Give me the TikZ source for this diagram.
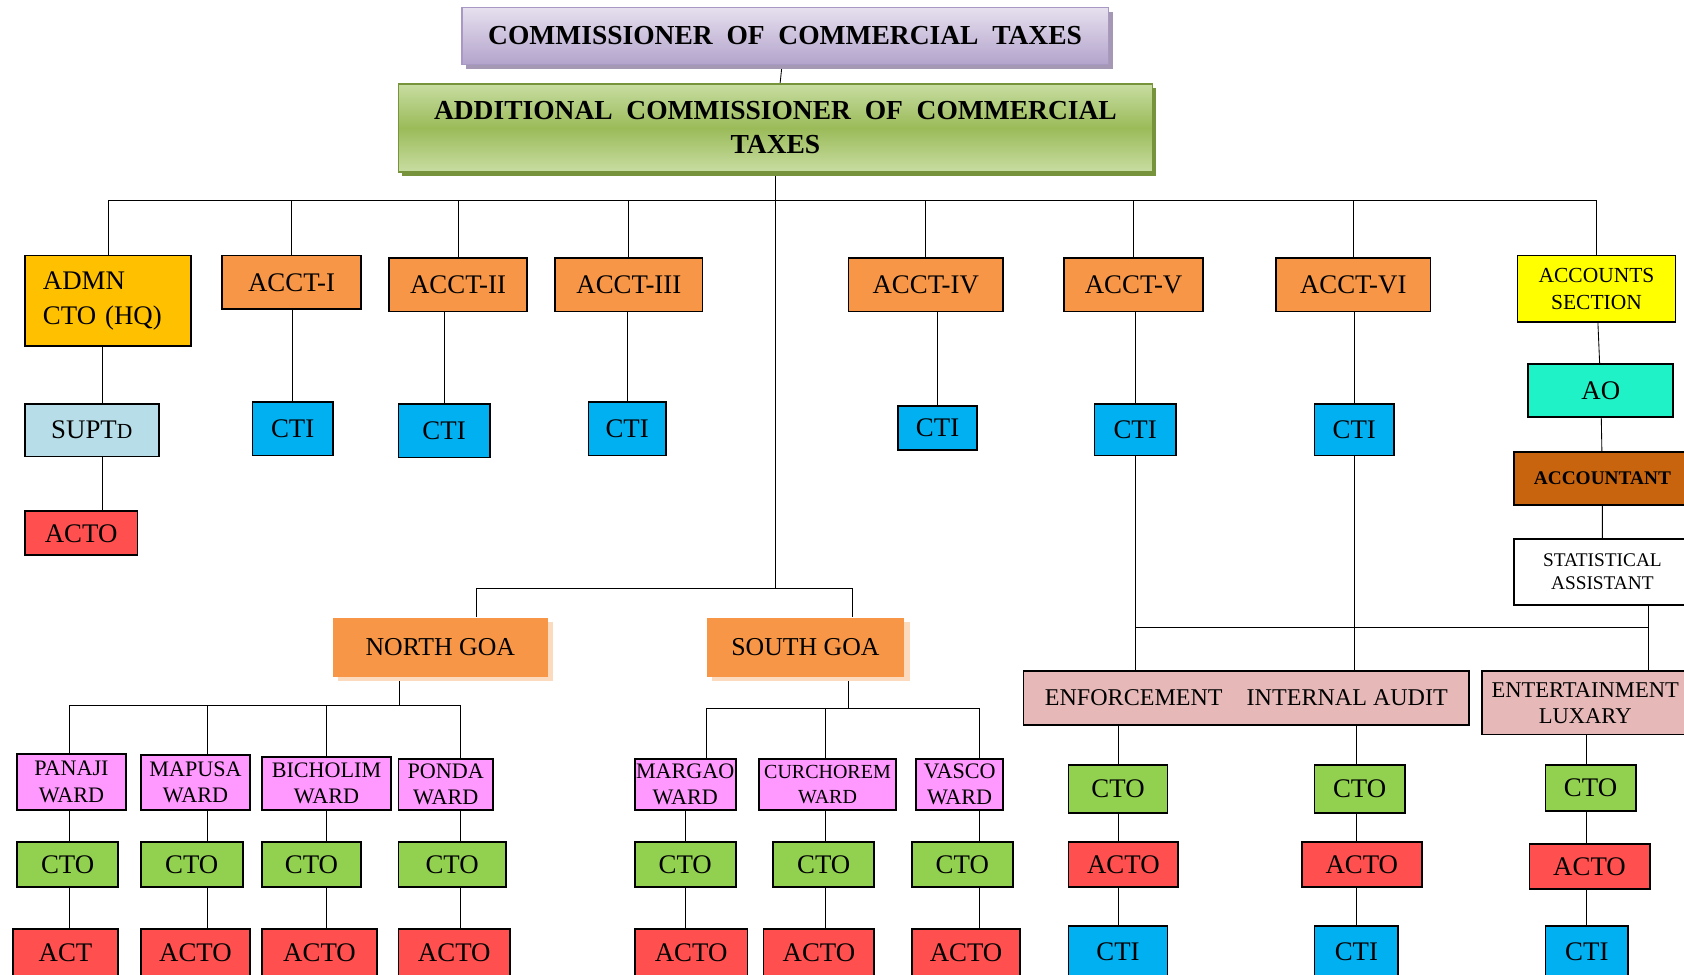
\documentclass[tikz,border=0pt]{standalone}
\usepackage{fontspec}
\setmainfont{Liberation Serif}
\usepackage{tikz}
\usetikzlibrary{shadows,backgrounds}
\definecolor{comtop}{HTML}{E6E0EE}
\definecolor{combot}{HTML}{B3A3CC}
\definecolor{comedge}{HTML}{A898C4}
\definecolor{addtop}{HTML}{C8DDA2}
\definecolor{addmid}{HTML}{9BBB59}
\definecolor{addedge}{HTML}{77933C}
\definecolor{acctorange}{HTML}{F79646}
\definecolor{admgold}{HTML}{FFC000}
\definecolor{accyellow}{HTML}{FFFF00}
\definecolor{ctiblue}{HTML}{00B0F0}
\definecolor{actored}{HTML}{FF4F4F}
\definecolor{ctogreen}{HTML}{92D050}
\definecolor{wardpink}{HTML}{FF99FF}
\definecolor{suptblue}{HTML}{B7DEE8}
\definecolor{enfpink}{HTML}{E6B9B8}
\definecolor{aogreen}{HTML}{1EF2C6}
\definecolor{accbrown}{HTML}{C8640E}

\begin{document}
\begin{tikzpicture}[x=0.5pt,y=-0.5pt,line width=0.9pt,
  box/.style 2 args={draw=black,line width=0.8pt,inner sep=0pt,align=center,
    minimum width=#1*0.5pt,minimum height=#2*0.5pt,font=\fontsize{12.5}{15}\selectfont}]
\tikzstyle{acct}=[fill=acctorange]
\tikzstyle{cti}=[fill=ctiblue]
\tikzstyle{cto}=[fill=ctogreen]
\tikzstyle{acto}=[fill=actored]
\tikzstyle{ward}=[fill=wardpink,font=\fontsize{10.3}{12.3}\selectfont]
\tikzstyle{goa}=[fill=acctorange,draw=none,font=\fontsize{12}{14}\selectfont,
  drop shadow={fill=acctorange!35!white,shadow xshift=2.5pt,shadow yshift=-2pt,opacity=1}]
\tikzstyle{head}=[font=\bfseries\fontsize{12.8}{16}\selectfont]
\useasboundingbox (0,0) rectangle (1568,907);
\clip (0,0) rectangle (1568,907);

% heads
\node[box={602}{53},head,draw=comedge,top color=comtop,bottom color=combot,
  drop shadow={fill=combot!70!gray,shadow xshift=2pt,shadow yshift=-2pt,opacity=1}]
  (COM) at (731,33.5) {COMMISSIONER\ \ OF\ \ COMMERCIAL\ \ TAXES};
\node[box={702}{82},head,draw=addedge,top color=addtop,bottom color=addtop,middle color=addmid,
  drop shadow={fill=addedge,shadow xshift=1.5pt,shadow yshift=-2pt,opacity=1}]
  (ADD) at (722,119) {ADDITIONAL\ \ COMMISSIONER\ \ OF\ \ COMMERCIAL\\TAXES};

% second row
\node[box={155}{84},fill=admgold,align=left,text width=60.5pt,
  font=\fontsize{12.5}{16.5}\selectfont] (ADM) at (100.5,280) {ADMN\\CTO (HQ)};
\node[box={129}{50},acct] (AC1) at (271.5,263) {ACCT-I};
\node[box={129}{50},acct] (AC2) at (426.5,265) {ACCT-II};
\node[box={137}{50},acct] (AC3) at (585.5,265) {ACCT-III};
\node[box={144}{50},acct] (AC4) at (862,265) {ACCT-IV};
\node[box={129}{50},acct] (AC5) at (1055.5,265) {ACCT-V};
\node[box={144}{50},acct] (AC6) at (1260,265) {ACCT-VI};
\node[box={147}{62},fill=accyellow,font=\fontsize{10}{12.5}\selectfont] (ACS) at (1486.5,269) {ACCOUNTS\\SECTION};

% third row
\node[box={125}{49},fill=suptblue] (SUP) at (85.5,400.5) {SUPT{\fontsize{10}{12}\selectfont D}};
\node[box={105}{41},acto] (ACH) at (75.5,496.5) {ACTO};
\node[box={75}{50},cti] (CT1) at (272.5,399) {CTI};
\node[box={85}{50},cti] (CT2) at (413.5,401) {CTI};
\node[box={72}{50},cti] (CT3) at (584,399) {CTI};
\node[box={74}{41},cti] (CT4) at (873,398.5) {CTI};
\node[box={76}{48},cti] (CT5) at (1057,400) {CTI};
\node[box={74}{48},cti] (CT6) at (1261,400) {CTI};
\node[box={135}{49},fill=aogreen] (AO) at (1490.5,363.5) {AO};
\node[box={164}{49},fill=accbrown,font=\bfseries\fontsize{9}{11}\selectfont] (ACN) at (1492,445.5) {ACCOUNTANT};
\node[box={164}{61},fill=white,font=\fontsize{9}{10.5}\selectfont] (STA) at (1492,532.5) {STATISTICAL\\ASSISTANT};

% enforcement etc
\node[box={415}{50},fill=enfpink,font=\fontsize{11.2}{14}\selectfont] (ENF) at (1160.5,650) {ENFORCEMENT\ \ \ \ INTERNAL AUDIT};
\node[box={192}{59},fill=enfpink,font=\fontsize{10.5}{12}\selectfont] (ENT) at (1476,654.5) {ENTERTAINMENT\\LUXARY};
\node[box={92}{45},cto] (ECO) at (1041,734.5) {CTO};
\node[box={102}{42},acto] (EAC) at (1046,805) {ACTO};
\node[box={92}{48},cti] (ECI) at (1041,886) {CTI};
\node[box={84}{45},cto] (ICO) at (1266,734.5) {CTO};
\node[box={112}{42},acto] (IAC) at (1268,805) {ACTO};
\node[box={78}{48},cti] (ICI) at (1263,886) {CTI};
\node[box={84}{43},cto] (TCO) at (1481,733.5) {CTO};
\node[box={112}{42},acto] (TAC) at (1480,807) {ACTO};
\node[box={77}{48},cti] (TCI) at (1477.5,886) {CTI};

% goa
\node[box={200}{55},goa] (NG) at (410,602.5) {NORTH GOA};
\node[box={184}{55},goa] (SG) at (750,602.5) {SOUTH GOA};

% north wards
\node[box={101}{52},ward] (PW) at (66.5,728) {PANAJI\\WARD};
\node[box={102}{51},ward] (MW) at (182,728.5) {MAPUSA\\WARD};
\node[box={120}{49},ward] (BW) at (304,729.5) {BICHOLIM\\WARD};
\node[box={88}{47},ward] (DW) at (415,730.5) {PONDA\\WARD};
\node[box={94}{42},cto] (PC) at (63,805) {CTO};
\node[box={95}{42},cto] (MC) at (178.5,805) {CTO};
\node[box={92}{42},cto] (BC) at (290,805) {CTO};
\node[box={100}{42},cto] (DC) at (421,805) {CTO};
\node[box={98}{45},acto] (PA) at (61,887.5) {ACT};
\node[box={102}{45},acto] (MA) at (182,887.5) {ACTO};
\node[box={107}{45},acto] (BA) at (297.5,887.5) {ACTO};
\node[box={104}{45},acto] (DA) at (423,887.5) {ACTO};

% south wards
\node[box={94}{47},ward] (GW) at (638,730.5) {MARGAO\\WARD};
\node[box={127}{47},ward,font=\fontsize{9.3}{11.5}\selectfont] (CW) at (770.5,730.5) {CURCHOREM\\WARD};
\node[box={81}{47},ward] (VW) at (893.5,730.5) {VASCO\\WARD};
\node[box={94}{42},cto] (GC) at (638,805) {CTO};
\node[box={94}{42},cto] (CC) at (767,805) {CTO};
\node[box={94}{42},cto] (VC) at (896,805) {CTO};
\node[box={105}{45},acto] (GA) at (643.5,887.5) {ACTO};
\node[box={103}{45},acto] (CA) at (762.5,887.5) {ACTO};
\node[box={101}{45},acto] (VA) at (899.5,887.5) {ACTO};

\coordinate (MB) at (722,187);
\coordinate (GB) at (722,548);
\coordinate (RB) at (1535,584);
\coordinate (NB) at (372,657);
\coordinate (SB) at (790,660);

\begin{scope}[on background layer]
\draw (COM) -- (ADD);
\draw (ADD) -- (GB);
\foreach \n in {ADM,AC1,AC2,AC3,AC4,AC5,AC6,ACS}
  \draw (MB) -| (\n);
\draw ([xshift=-2.75pt]ADM.south) -- ([xshift=-2.75pt]ADM.south |- ACH.north);
\foreach \a/\c in {AC1/CT1,AC2/CT2,AC3/CT3,AC4/CT4,AC5/CT5,AC6/CT6}
  \draw (\c) -- (\c |- \a.south);
\draw (ACS) -- (AO) -- (ACN) -- (STA);
\draw (STA.south -| RB) -- (ENT.north -| RB);
\draw (RB) -- (RB -| CT5);
\draw (CT5) -- (CT5 |- ENF.north);
\draw (CT6) -- (CT6 |- ENF.north);
\draw (ENF.south -| ECO) -- (ECI);
\draw (ENF.south -| ICI) -- (ICI);
\draw (ENT.south -| TCI) -- (TCI);
\draw (GB) -| ([xshift=17pt]NG.north);
\draw (GB) -| ([xshift=22pt]SG.north);
\draw (NB |- NG.south) -- (NB);
\foreach \w/\a/\s in {PW/PA/-1,MW/MA/5.5,BW/BA/0,DW/DA/7}
  \draw (NB) -| ([xshift=\s pt]\w.north) ([xshift=\s pt]\w.south) -- ([xshift=\s pt]\w.south |- \a.north);
\draw (SB |- SG.south) -- (SB);
\draw (SB) -| ([xshift=10pt]GW.north);
\draw (GW) -- (GW |- GA.north);
\foreach \w/\a/\s in {CW/CA/-1,VW/VA/9}
  \draw (SB) -| ([xshift=\s pt]\w.north) ([xshift=\s pt]\w.south) -- ([xshift=\s pt]\w.south |- \a.north);
\end{scope}
\end{tikzpicture}
\end{document}
